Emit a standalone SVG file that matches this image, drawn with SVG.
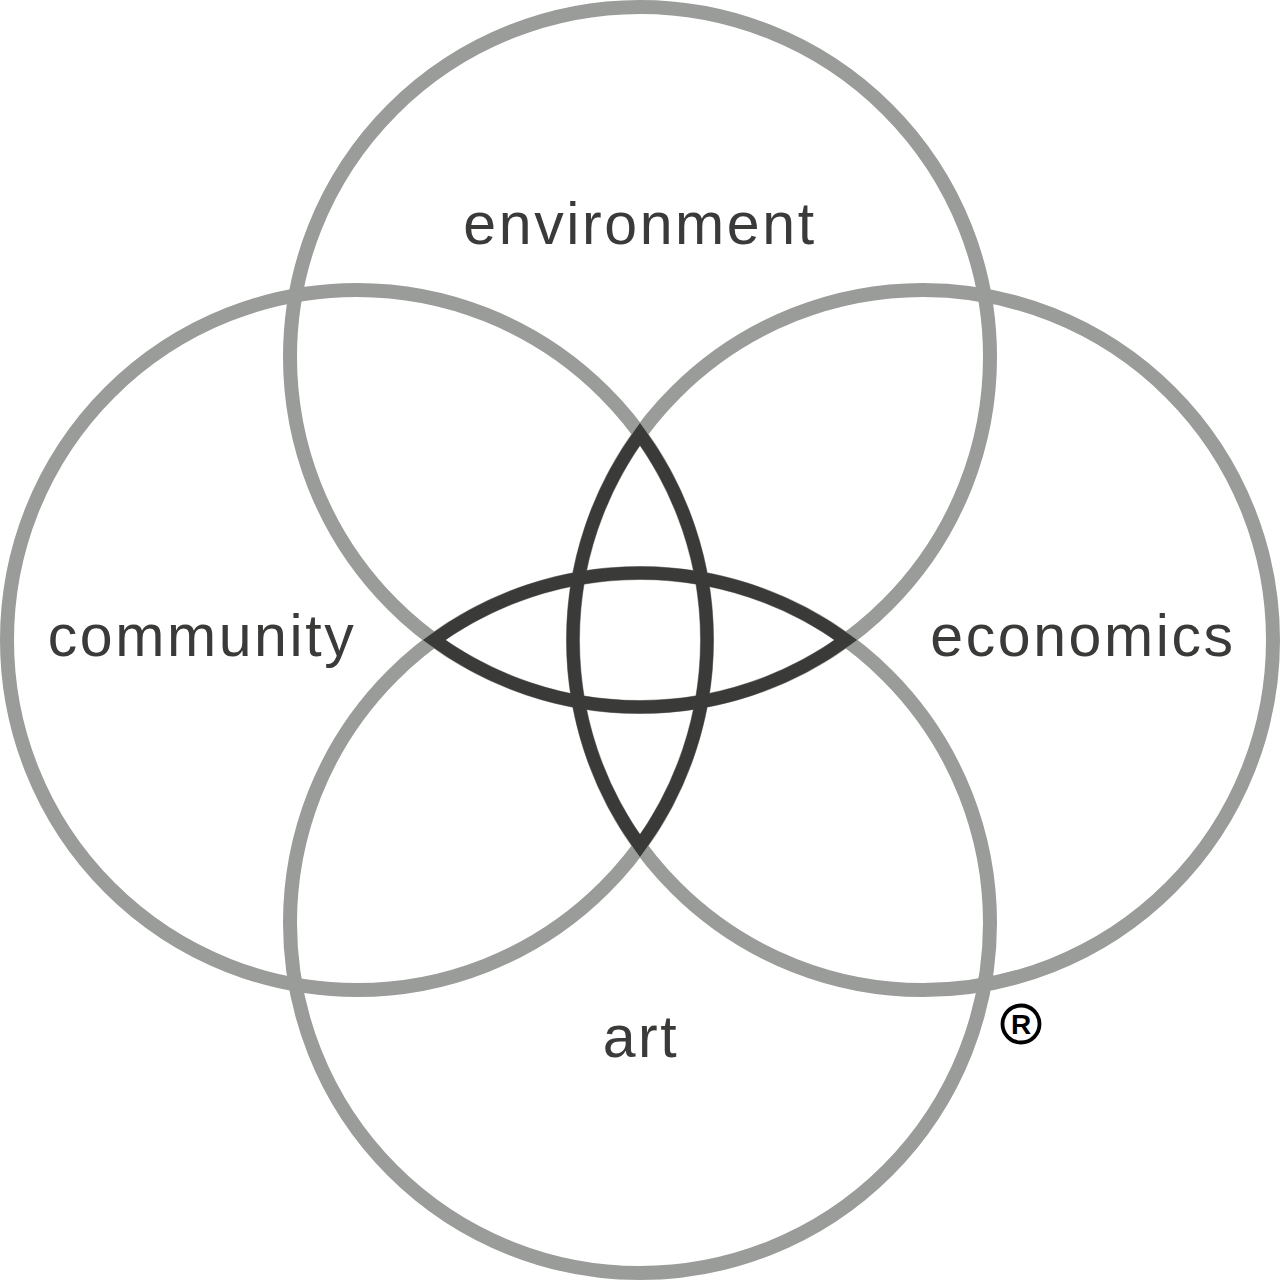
<svg xmlns="http://www.w3.org/2000/svg" width="1280" height="1280" viewBox="0 0 1280 1280">
<style>
.ring{fill:none;stroke:#9a9c99;stroke-width:14}
.lens{fill:none;stroke:#3a3b39;stroke-width:13;stroke-linejoin:miter;stroke-miterlimit:20}
.lbl{font-family:"Liberation Sans",Arial,sans-serif;font-size:59px;fill:#3a3b39;letter-spacing:2.6px;text-anchor:middle}
</style>
<rect width="1280" height="1280" fill="#fff"/>
<g id="environment"><circle class="ring" cx="640" cy="357" r="350"/><text class="lbl" x="640" y="244">environment</text></g>
<g id="community"><circle class="ring" cx="357" cy="640" r="350"/><text class="lbl" x="202" y="656">community</text></g>
<g id="economics"><circle class="ring" cx="923" cy="640" r="350"/><text class="lbl" x="1083" y="656">economics</text></g>
<g id="art"><circle class="ring" cx="640" cy="923" r="350"/><text class="lbl" x="641" y="1057">art</text></g>
<g id="connectors">
<path class="lens" d="M640,434 A350,350 0 0 1 640,846 A350,350 0 0 1 640,434 Z"/>
<path class="lens" d="M434,640 A350,350 0 0 0 846,640 A350,350 0 0 0 434,640 Z"/>
</g>
<g id="registered">
<circle cx="1021" cy="1024" r="18.5" fill="none" stroke="#000" stroke-width="3.8"/>
<text x="1021" y="1034" font-family="Liberation Sans,Arial,sans-serif" font-weight="bold" font-size="28" text-anchor="middle" fill="#000">R</text>
</g>
</svg>
